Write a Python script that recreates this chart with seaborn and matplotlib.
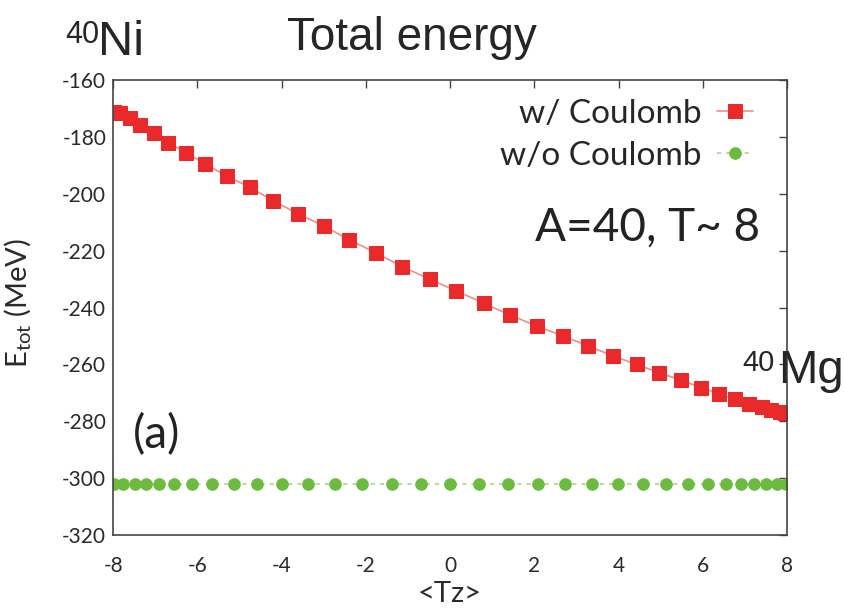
import numpy as np
import matplotlib
matplotlib.use("Agg")
import matplotlib.pyplot as plt
import seaborn as sns

sns.set_style("white")
plt.rcParams['font.family'] = ['Lato', 'DejaVu Sans']
plt.rcParams['axes.unicode_minus'] = False
plt.rcParams['mathtext.fontset'] = 'custom'
plt.rcParams['mathtext.rm'] = 'Lato'

# --- data ---
tz_coul = [-7.99, -7.83, -7.61, -7.36, -7.04, -6.69, -6.27, -5.81, -5.30, -4.75,
           -4.21, -3.60, -3.00, -2.39, -1.77, -1.13, -0.48, 0.15, 0.80, 1.42,
           2.06, 2.68, 3.28, 3.88, 4.43, 4.97, 5.48, 5.96, 6.39, 6.76,
           7.10, 7.40, 7.63, 7.83, 7.95]
e_coul = [-171.1, -171.5, -173.5, -175.8, -178.7, -182.0, -185.6, -189.5, -193.8, -197.7,
          -202.4, -207.1, -211.3, -216.2, -220.7, -225.6, -230.1, -234.1, -238.5, -242.6,
          -246.5, -250.0, -253.5, -257.1, -260.0, -262.9, -265.5, -268.1, -270.4, -272.3,
          -273.9, -275.1, -276.0, -276.6, -277.2]

tz_nocoul = [-7.98, -7.76, -7.49, -7.22, -6.90, -6.56, -6.12, -5.66, -5.13, -4.58,
             -3.99, -3.37, -2.74, -2.08, -1.38, -0.68, 0.0, 0.68, 1.38, 2.08,
             2.74, 3.37, 3.99, 4.58, 5.13, 5.66, 6.12, 6.56, 6.90, 7.22,
             7.49, 7.76, 7.98]
e_nocoul = [-302.0] * len(tz_nocoul)

xticks = [-8, -6, -4, -2, 0, 2, 4, 6, 8]
yticks = [-320, -300, -280, -260, -240, -220, -200, -180, -160]

red = '#ea2a2a'
green = '#6bbb3f'
arial = ['Liberation Sans', 'DejaVu Sans']

fig = plt.figure(figsize=(8.44, 6.13), dpi=100)
ax = fig.add_axes([0.134, 0.127, 0.7985, 0.7425])

sns.lineplot(x=tz_coul, y=e_coul, ax=ax, sort=False, color='#f28c8c', lw=1.2,
             marker='s', markersize=9.5, markerfacecolor=red, markeredgecolor=red,
             label='w/ Coulomb')
sns.lineplot(x=tz_nocoul, y=e_nocoul, ax=ax, sort=False, color='#a6d98a', lw=1.2,
             linestyle=(0, (2.5, 3)), marker='o', markersize=8.3,
             markerfacecolor=green, markeredgecolor=green, label='w/o Coulomb')

ax.set_xlim(-8, 8)
ax.set_ylim(-320, -160)
ax.set_xticks(xticks)
ax.set_yticks(yticks)
ax.tick_params(direction='in', top=True, right=True, length=6, width=1,
               labelsize=15, labelcolor='#2a2a2a', color='#444444')
ax.tick_params(axis='x', pad=15)
ax.tick_params(axis='y', pad=5)
for s in ax.spines.values():
    s.set_color('#444444')
    s.set_linewidth(1.2)

ax.set_xlabel('<Tz>', fontsize=21, color='#2a2a2a')
ax.xaxis.set_label_coords(0.5, -0.1)
ax.set_ylabel(r'E$_{\mathrm{tot}}$ (MeV)', fontsize=21, color='#2a2a2a')
ax.yaxis.set_label_coords(-0.118, 0.51)

leg = ax.legend(loc='upper right', bbox_to_anchor=(0.95, 0.958), markerfirst=False,
                frameon=False, prop={'family': 'Lato', 'size': 24}, handlelength=1.1,
                handletextpad=0.45, borderpad=0, borderaxespad=0, labelspacing=0.35)

ax.text(0.96, 0.648, 'A=40, T~ 8', transform=ax.transAxes, ha='right',
        fontsize=33, color='#222222')
ax.text(0.03, 0.19, '(a)', transform=ax.transAxes, ha='left',
        fontsize=33, color='#222222')

fig.text(0.488, 0.918, 'Total energy', ha='center', fontsize=33, family=arial)
fig.text(0.077, 0.967, '40', va='top', fontsize=22, family=arial)
fig.text(0.116, 0.910, 'Ni', fontsize=35, family=arial)
fig.text(0.880, 0.430, '40', va='top', fontsize=21, family=arial)
fig.text(0.922, 0.375, 'Mg', fontsize=34, family=arial)

plt.savefig('out.png', dpi=100)
